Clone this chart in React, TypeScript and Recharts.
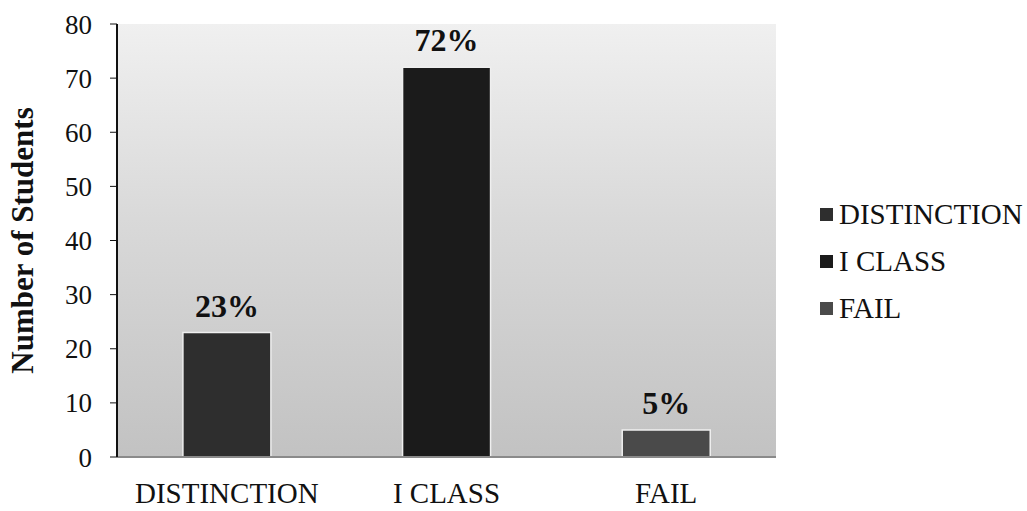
import React from 'react';
import { BarChart, Bar, XAxis, YAxis, CartesianGrid, Cell, LabelList, Legend } from 'recharts';

const categories = ['DISTINCTION', 'I CLASS', 'FAIL'];
const students = [23, 72, 5];
const percentLabels = ['23%', '72%', '5%'];
const barColors = ['#2e2e2e', '#1b1b1b', '#4a4a4a'];
const yTicks = [0, 10, 20, 30, 40, 50, 60, 70, 80];

const data = categories.map((c, i) => ({ name: c, value: students[i], pct: percentLabels[i] }));

const FONT = "'Liberation Serif', 'Times New Roman', Times, serif";

const YLabel = (props: any) => {
  const vb = props.viewBox || { x: 0, y: 0, width: 0, height: 0 };
  const cx = 22;
  const cy = vb.y + vb.height / 2;
  return (
    <text
      x={cx}
      y={cy}
      transform={`rotate(-90, ${cx}, ${cy})`}
      textAnchor="middle"
      dominantBaseline="central"
      fontFamily={FONT}
      fontWeight="bold"
      fontSize={31}
      fill="#111"
    >
      Number of Students
    </text>
  );
};

const LegendContent = () => (
  <div style={{ fontFamily: FONT, fontSize: 29, color: '#111', lineHeight: '47px' }}>
    {categories.map((c, i) => (
      <div key={c} style={{ display: 'flex', alignItems: 'center', height: 47, fontFamily: FONT }}>
        <span style={{ display: 'inline-block', width: 13, height: 13, background: barColors[i], marginRight: 6 }} />
        <span style={{ fontFamily: FONT, fontSize: 29 }}>{c}</span>
      </div>
    ))}
  </div>
);

export default function App() {
  return (
    <div style={{ position: 'absolute', left: 0, top: 0, width: 1027, height: 511, background: '#fff', fontFamily: FONT }}>
      <BarChart width={1027} height={511} data={data} margin={{ top: 24, right: 251, bottom: 0, left: 0 }} barCategoryGap="30%">
        <defs>
          <linearGradient id="bgGrad" x1="0" y1="0" x2="0" y2="1">
            <stop offset="0%" stopColor="#f0f0f0" />
            <stop offset="45%" stopColor="#d9d9d9" />
            <stop offset="100%" stopColor="#c2c2c2" />
          </linearGradient>
        </defs>
        <CartesianGrid horizontal={false} vertical={false} fill="url(#bgGrad)" />
        <XAxis
          dataKey="name"
          height={54}
          axisLine={{ stroke: '#8a8a8a', strokeWidth: 2 }}
          tickLine={false}
          tickSize={0}
          tickMargin={25}
          tick={{ fontFamily: FONT, fontSize: 29, fill: '#111' }}
        />
        <XAxis xAxisId="top" orientation="top" dataKey="name" height={0} tick={false} tickLine={false} axisLine={{ stroke: '#111', strokeWidth: 3 }} />
        <YAxis
          width={117}
          domain={[0, 80]}
          ticks={yTicks}
          interval={0}
          axisLine={{ stroke: '#111', strokeWidth: 2 }}
          tickLine={{ stroke: '#111' }}
          tickSize={7}
          tickMargin={18}
          tick={{ fontFamily: FONT, fontSize: 27, fill: '#111' }}
          label={<YLabel />}
        />
        <YAxis yAxisId="right" orientation="right" width={0} tick={false} tickLine={false} axisLine={{ stroke: '#111', strokeWidth: 2 }} domain={[0, 80]} />
        <Legend
          layout="horizontal"
          verticalAlign="middle"
          align="center"
          content={<LegendContent />}
          wrapperStyle={{ position: 'absolute', left: 820, top: 191, width: 207, fontFamily: FONT }}
        />
        <Bar dataKey="value" isAnimationActive={false} stroke="#efefef" strokeWidth={1.5}>
          {data.map((d, i) => (
            <Cell key={d.name} fill={barColors[i]} />
          ))}
          <LabelList dataKey="pct" position="top" offset={16} style={{ fontFamily: FONT, fontSize: 32, fontWeight: 'bold', fill: '#111' }} />
        </Bar>
      </BarChart>
    </div>
  );
}
